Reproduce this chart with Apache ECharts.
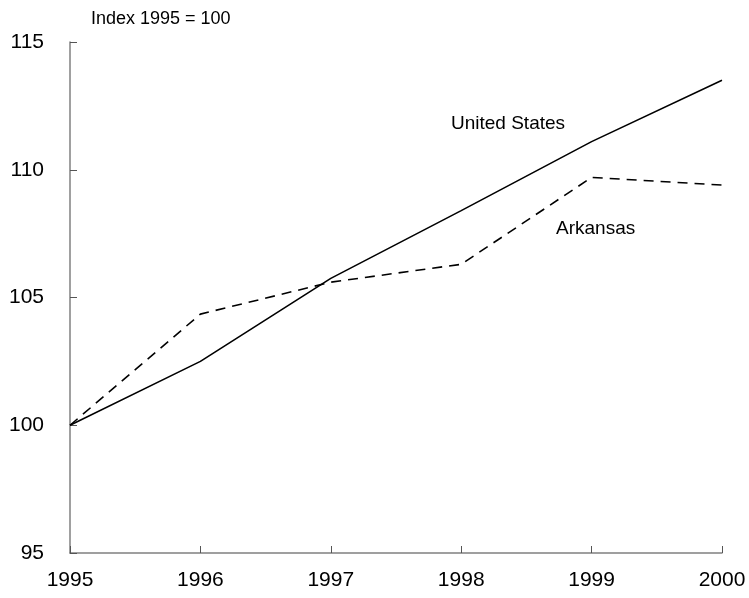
<!DOCTYPE html>
<html>
<head>
<meta charset="utf-8">
<script src="https://cdn.jsdelivr.net/npm/echarts@6/dist/echarts.min.js"></script>
<style>
  html, body { margin: 0; padding: 0; background: #fff; }
  #main { width: 749px; height: 598px; }
</style>
</head>
<body>
<div id="main"></div>
<script>
// index values, 1995 = 100
var years = ['1995', '1996', '1997', '1998', '1999', '2000'];
var unitedStates = [100, 102.5, 105.75, 108.4, 111.1, 113.5];
var arkansas = [100, 104.35, 105.6, 106.3, 109.7, 109.4];
var yTicks = [95, 100, 105, 110, 115];

var chart = echarts.init(document.getElementById('main'));
var font = 'Liberation Sans, Arial, sans-serif';

chart.setOption({
  animation: false,
  grid: { left: 70, right: 27, top: 42, bottom: 45 },
  xAxis: {
    type: 'category',
    data: years,
    boundaryGap: false,
    axisLine: { lineStyle: { color: '#808080', width: 1.5 } },
    axisTick: { inside: true, length: 7, lineStyle: { color: '#555' } },
    axisLabel: { color: '#000', fontSize: 21, fontFamily: font, margin: 17 },
    splitLine: { show: false }
  },
  yAxis: {
    type: 'value',
    min: yTicks[0],
    max: yTicks[yTicks.length - 1],
    interval: 5,
    axisLine: { show: true, lineStyle: { color: '#808080', width: 1.5 } },
    axisTick: { show: true, inside: true, length: 7, lineStyle: { color: '#555' } },
    axisLabel: { color: '#000', fontSize: 21, fontFamily: font, margin: 26 },
    splitLine: { show: false }
  },
  series: [
    {
      name: 'United States',
      type: 'line',
      data: unitedStates,
      symbol: 'none',
      lineStyle: { color: '#000', width: 1.6, type: 'solid' }
    },
    {
      name: 'Arkansas',
      type: 'line',
      data: arkansas,
      symbol: 'none',
      lineStyle: { color: '#000', width: 1.6, type: [10, 7] }
    }
  ],
  graphic: [
    {
      type: 'text', left: 91, top: 10,
      style: { text: 'Index 1995 = 100', fontSize: 18, fontFamily: font, fill: '#000' }
    },
    {
      type: 'text', left: 451, top: 114,
      style: { text: 'United States', fontSize: 19, fontFamily: font, fill: '#000' }
    },
    {
      type: 'text', left: 556, top: 219,
      style: { text: 'Arkansas', fontSize: 19, fontFamily: font, fill: '#000' }
    }
  ]
});
</script>
</body>
</html>
